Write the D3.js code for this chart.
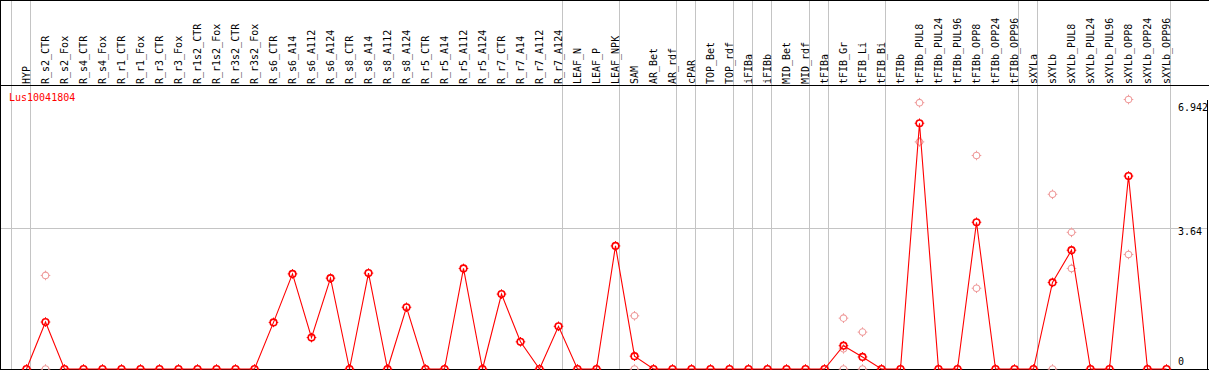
<!DOCTYPE html>
<html>
<head>
<meta charset="utf-8">
<script src="https://cdn.jsdelivr.net/npm/d3@7/dist/d3.min.js"></script>
<style>
  body { margin: 0; background: #fff; }
  svg { display: block; }
  text { font-family: "DejaVu Sans Mono", monospace; font-size: 10px; }
</style>
</head>
<body>
<script>
// gene shown in the panel
var geneName = "Lus10041804";

var categories = [
  "HYP", "R_s2_CTR", "R_s2_Fox", "R_s4_CTR", "R_s4_Fox", "R_r1_CTR", "R_r1_Fox",
  "R_r3_CTR", "R_r3_Fox", "R_r1s2_CTR", "R_r1s2_Fox", "R_r3s2_CTR", "R_r3s2_Fox",
  "R_s6_CTR", "R_s6_A14", "R_s6_A112", "R_s6_A124", "R_s8_CTR", "R_s8_A14",
  "R_s8_A112", "R_s8_A124", "R_r5_CTR", "R_r5_A14", "R_r5_A112", "R_r5_A124",
  "R_r7_CTR", "R_r7_A14", "R_r7_A112", "R_r7_A124", "LEAF_N", "LEAF_P", "LEAF_NPK",
  "SAM", "AR_Bet", "AR_rdf", "cPAR", "TOP_Bet", "TOP_rdf", "iFIBa", "iFIBb",
  "MID_Bet", "MID_rdf", "tFIBa", "tFIB_Gr", "tFIB_Li", "tFIB_Bi", "tFIBb",
  "tFIBb_PUL8", "tFIBb_PUL24", "tFIBb_PUL96", "tFIBb_OPP8", "tFIBb_OPP24", "tFIBb_OPP96",
  "sXYLa", "sXYLb", "sXYLb_PUL8", "sXYLb_PUL24", "sXYLb_PUL96", "sXYLb_OPP8",
  "sXYLb_OPP24", "sXYLb_OPP96"
];

// mean expression per sample (red line)
var means = [
  0, 1.21, 0, 0, 0, 0, 0, 0, 0, 0, 0, 0, 0,
  1.20, 2.45, 0.81, 2.34, 0, 2.47, 0, 1.59, 0, 0, 2.59, 0,
  1.93, 0.70, 0, 1.10, 0, 0, 3.17,
  0.33, 0, 0, 0, 0, 0, 0, 0, 0, 0, 0, 0.60, 0.31, 0, 0,
  6.33, 0, 0, 3.78, 0, 0,
  0, 2.23, 3.06, 0, 0, 4.97, 0, 0
];

// single replicates (pale points): [sample, value]
var replicates = [
  ["R_s2_CTR", 2.41], ["R_s2_CTR", 0],
  ["SAM", 1.37], ["SAM", 0],
  ["tFIB_Gr", 1.31], ["tFIB_Gr", 0.52], ["tFIB_Gr", 0],
  ["tFIB_Li", 0.95], ["tFIB_Li", 0],
  ["tFIBb_PUL8", 6.86], ["tFIBb_PUL8", 5.85],
  ["tFIBb_OPP8", 5.50], ["tFIBb_OPP8", 2.08],
  ["sXYLb", 4.50], ["sXYLb", 0],
  ["sXYLb_PUL8", 3.52], ["sXYLb_PUL8", 2.59],
  ["sXYLb_OPP8", 6.942], ["sXYLb_OPP8", 2.95]
];

// a grey divider is drawn after each of these samples
var groupEnds = [
  "HYP", "R_r7_A124", "LEAF_NPK", "AR_rdf", "cPAR", "TOP_rdf", "iFIBa", "iFIBb",
  "MID_rdf", "tFIBa", "tFIB_Bi", "tFIBb_OPP96", "sXYLa", "sXYLb_OPP96"
];

var yTicks = [0, 3.64, 6.942];

var W = 1209, H = 370;
var headerBottom = 85.5;
var red = "#ff0000", pale = "#ef9a9a", grey = "#c4c4c4";

var svg = d3.select("body").append("svg")
    .attr("width", W).attr("height", H);

var x = d3.scaleBand().domain(categories).range([11, 1170]);
var bw = x.bandwidth();
function px(c) { return x(c) + 15.5; }
function crisp(v) { return Math.floor(v) + 0.5; }

var y = d3.scaleLinear().domain([0, 6.942]).range([369, 99.5]);

// dividers
var divs = [x(categories[0])].concat(groupEnds.map(function(c) { return x(c) + bw; }));
svg.append("g").selectAll("line").data(divs).enter().append("line")
    .attr("x1", function(d) { return crisp(d); })
    .attr("x2", function(d) { return crisp(d); })
    .attr("y1", 0).attr("y2", H)
    .attr("stroke", grey).attr("shape-rendering", "crispEdges");

// horizontal grid (middle tick)
svg.append("g").selectAll("line").data(yTicks.filter(function(t) { return t > 0 && t < 6.942; }))
  .enter().append("line")
    .attr("x1", 0).attr("x2", 1207)
    .attr("y1", function(d) { return Math.round(y(d)) + 0.5; })
    .attr("y2", function(d) { return Math.round(y(d)) + 0.5; })
    .attr("stroke", grey).attr("shape-rendering", "crispEdges");

// frame
var frame = svg.append("g").attr("stroke", "#000").attr("shape-rendering", "crispEdges");
frame.append("line").attr("x1", 0).attr("x2", W).attr("y1", 0.5).attr("y2", 0.5);
frame.append("line").attr("x1", 0.5).attr("x2", 0.5).attr("y1", 0).attr("y2", H);
frame.append("line").attr("x1", 0).attr("x2", W).attr("y1", headerBottom).attr("y2", headerBottom);
frame.append("line").attr("x1", 0).attr("x2", W).attr("y1", 369.5).attr("y2", 369.5);
frame.append("line").attr("x1", 1207.5).attr("x2", 1207.5).attr("y1", y(6.942)).attr("y2", H);

// sample labels, rotated
svg.append("g").selectAll("text").data(categories).enter().append("text")
    .attr("transform", function(d) { return "translate(" + (Math.round(px(d)) + 3) + ",84) rotate(-90)"; })
    .attr("fill", "#000")
    .text(function(d) { return d; });

// right axis labels
svg.append("g").selectAll("text").data(yTicks).enter().append("text")
    .attr("x", 1178)
    .attr("y", function(d) { return Math.max(110.5, Math.min(y(d) + 7.5, 365)); })
    .attr("fill", "#000")
    .text(function(d) { return d; });

svg.append("text").attr("x", 9).attr("y", 100.5).attr("fill", red).text(geneName);

function marker(g, cx, cy, color, sw) {
  var m = g.append("g").attr("transform", "translate(" + cx + "," + cy + ")")
      .attr("stroke", color).attr("fill", "none").attr("stroke-width", sw);
  m.append("circle").attr("r", 3.3);
  [[0, -1], [0, 1], [-1, 0], [1, 0]].forEach(function(t) {
    m.append("line")
      .attr("x1", t[0] * 3.3).attr("y1", t[1] * 3.3)
      .attr("x2", t[0] * 4.8).attr("y2", t[1] * 4.8)
      .attr("stroke-width", 1);
  });
}

// replicate points
var repG = svg.append("g");
replicates.forEach(function(r) { marker(repG, px(r[0]), y(r[1]), pale, 1.1); });

// mean line
var line = d3.line()
    .x(function(d, i) { return px(categories[i]); })
    .y(function(d) { return y(d); });
svg.append("path").datum(means)
    .attr("d", line)
    .attr("fill", "none").attr("stroke", red).attr("stroke-width", 1.1);

var meanG = svg.append("g");
means.forEach(function(v, i) { marker(meanG, px(categories[i]), y(v), red, 1.6); });
</script>
</body>
</html>
